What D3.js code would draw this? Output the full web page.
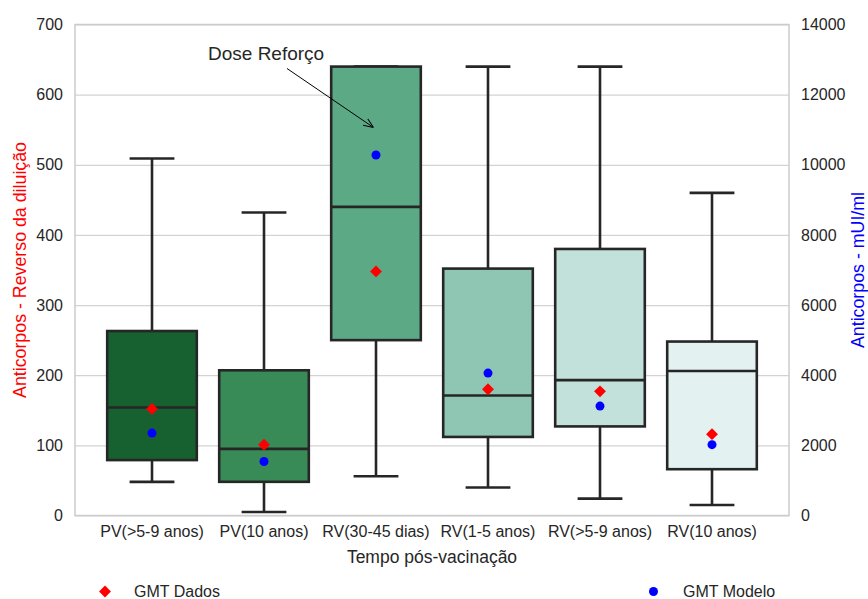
<!DOCTYPE html>
<html>
<head>
<meta charset="utf-8">
<script src="https://cdn.jsdelivr.net/npm/d3@7"></script>
<style>
  body { margin: 0; background: #fff; }
  text { font-family: "Liberation Sans", Arial, sans-serif; }
</style>
</head>
<body>
<div id="chart"></div>
<script>
// categories (x axis)
const categories = ["PV(>5-9 anos)", "PV(10 anos)", "RV(30-45 dias)", "RV(1-5 anos)", "RV(>5-9 anos)", "RV(10 anos)"];
// box stats, reverse of dilution
const whiskerLow = [48, 5, 56, 40, 24, 15];
const q1 = [79, 48, 250, 112, 127, 66];
const median = [154, 95, 440, 171, 193, 206];
const q3 = [263, 207, 640, 352, 380, 248];
const whiskerHigh = [509, 432, 640, 640, 640, 460];
// GMT from data (left axis) and from model (right axis, mUI/ml)
const gmtDados = [152, 101, 348, 180, 177, 116];
const gmtModelo = [2350, 1540, 10280, 4060, 3120, 2020];
const boxColors = ["#16612f", "#388a57", "#5ca986", "#8fc6b3", "#c2e1db", "#e3f1f1"];
const leftTicks = [0, 100, 200, 300, 400, 500, 600, 700];
const rightTicks = [0, 2000, 4000, 6000, 8000, 10000, 12000, 14000];

const W = 868, H = 599;
const plot = { left: 75, right: 789, top: 24.5, bottom: 515.5 };
const tickFont = 16;

const svg = d3.select("#chart").append("svg")
  .attr("width", W).attr("height", H);

const x = d3.scaleBand()
  .domain(categories)
  .range([plot.left, plot.right])
  .paddingInner(0.2)
  .paddingOuter(0.2875);
const yL = d3.scaleLinear().domain([0, 700]).range([plot.bottom, plot.top]);
const yR = d3.scaleLinear().domain([0, 14000]).range([plot.bottom, plot.top]);

const cx = c => x(c) + x.bandwidth() / 2;

// grid lines
svg.append("g")
  .attr("transform", "translate(" + plot.left + ",0)")
  .call(d3.axisLeft(yL).tickValues(leftTicks).tickSize(-(plot.right - plot.left)).tickFormat(""))
  .call(g => g.select(".domain").remove())
  .call(g => g.selectAll("line").attr("stroke", "#d3d3d3").attr("stroke-width", 1.2));

// left tick labels
svg.append("g")
  .attr("transform", "translate(" + plot.left + ",0)")
  .call(d3.axisLeft(yL).tickValues(leftTicks).tickSize(0).tickPadding(12))
  .call(g => g.select(".domain").remove())
  .call(g => g.selectAll("text").attr("font-size", tickFont).attr("fill", "#262626")
    .attr("font-family", "Liberation Sans, Arial, sans-serif"));

// right tick labels
svg.append("g")
  .attr("transform", "translate(" + plot.right + ",0)")
  .call(d3.axisRight(yR).tickValues(rightTicks).tickFormat(d3.format("d")).tickSize(0).tickPadding(12))
  .call(g => g.select(".domain").remove())
  .call(g => g.selectAll("text").attr("font-size", tickFont).attr("fill", "#262626")
    .attr("font-family", "Liberation Sans, Arial, sans-serif"));

// x tick labels
svg.append("g")
  .attr("transform", "translate(0," + plot.bottom + ")")
  .call(d3.axisBottom(x).tickSize(0).tickPadding(10))
  .call(g => g.select(".domain").remove())
  .call(g => g.selectAll("text").attr("font-size", tickFont).attr("fill", "#262626")
    .attr("font-family", "Liberation Sans, Arial, sans-serif"));

// frame
svg.append("rect")
  .attr("x", plot.left).attr("y", plot.top)
  .attr("width", plot.right - plot.left).attr("height", plot.bottom - plot.top)
  .attr("fill", "none").attr("stroke", "#cccccc").attr("stroke-width", 1.5);

// boxes
const boxes = svg.append("g").selectAll("g.box")
  .data(categories)
  .enter().append("g").attr("class", "box");

const lineCol = "#262626", lw = 2.6;
const capW = x.bandwidth() / 2;

boxes.append("line")
  .attr("x1", cx).attr("x2", cx)
  .attr("y1", (d, i) => yL(q3[i])).attr("y2", (d, i) => yL(whiskerHigh[i]))
  .attr("stroke", lineCol).attr("stroke-width", lw);
boxes.append("line")
  .attr("x1", cx).attr("x2", cx)
  .attr("y1", (d, i) => yL(q1[i])).attr("y2", (d, i) => yL(whiskerLow[i]))
  .attr("stroke", lineCol).attr("stroke-width", lw);
boxes.append("line")
  .attr("x1", d => cx(d) - capW / 2).attr("x2", d => cx(d) + capW / 2)
  .attr("y1", (d, i) => yL(whiskerHigh[i])).attr("y2", (d, i) => yL(whiskerHigh[i]))
  .attr("stroke", lineCol).attr("stroke-width", lw);
boxes.append("line")
  .attr("x1", d => cx(d) - capW / 2).attr("x2", d => cx(d) + capW / 2)
  .attr("y1", (d, i) => yL(whiskerLow[i])).attr("y2", (d, i) => yL(whiskerLow[i]))
  .attr("stroke", lineCol).attr("stroke-width", lw);
boxes.append("rect")
  .attr("x", d => x(d)).attr("width", x.bandwidth())
  .attr("y", (d, i) => yL(q3[i])).attr("height", (d, i) => yL(q1[i]) - yL(q3[i]))
  .attr("fill", (d, i) => boxColors[i])
  .attr("stroke", lineCol).attr("stroke-width", lw);
boxes.append("line")
  .attr("x1", d => x(d)).attr("x2", d => x(d) + x.bandwidth())
  .attr("y1", (d, i) => yL(median[i])).attr("y2", (d, i) => yL(median[i]))
  .attr("stroke", lineCol).attr("stroke-width", lw);

// GMT points
const diamond = d3.symbol().type(d3.symbolDiamond2).size(90);
svg.append("g").selectAll("path")
  .data(categories)
  .enter().append("path")
  .attr("d", diamond)
  .attr("transform", (d, i) => "translate(" + cx(d) + "," + yL(gmtDados[i]) + ")")
  .attr("fill", "#ff0000");
svg.append("g").selectAll("circle")
  .data(categories)
  .enter().append("circle")
  .attr("cx", cx).attr("cy", (d, i) => yR(gmtModelo[i]))
  .attr("r", 4.5)
  .attr("fill", "#0000ff");

// annotation
svg.append("defs").append("marker")
  .attr("id", "arrow")
  .attr("viewBox", "0 0 10 10").attr("refX", 10).attr("refY", 5)
  .attr("markerWidth", 10).attr("markerHeight", 10)
  .attr("markerUnits", "userSpaceOnUse")
  .attr("orient", "auto")
  .append("path").attr("d", "M0,1 L10,5 L0,9")
  .attr("fill", "none").attr("stroke", "#000").attr("stroke-width", 1);
svg.append("line")
  .attr("x1", 287).attr("y1", 68.5)
  .attr("x2", 373.5).attr("y2", 127.5)
  .attr("stroke", "#000").attr("stroke-width", 1)
  .attr("marker-end", "url(#arrow)");
svg.append("text")
  .attr("x", 208).attr("y", 59.5)
  .attr("font-size", 19).attr("fill", "#262626")
  .text("Dose Reforço");

// axis titles
svg.append("text")
  .attr("x", (plot.left + plot.right) / 2).attr("y", 563)
  .attr("text-anchor", "middle").attr("font-size", 17.5).attr("fill", "#262626")
  .text("Tempo pós-vacinação");
svg.append("text")
  .attr("transform", "translate(25.5," + (plot.top + plot.bottom) / 2 + ") rotate(-90)")
  .attr("text-anchor", "middle").attr("font-size", 17.8).attr("fill", "#ff0000")
  .text("Anticorpos - Reverso da diluição");
svg.append("text")
  .attr("transform", "translate(863.5," + (plot.top + plot.bottom) / 2 + ") rotate(-90)")
  .attr("text-anchor", "middle").attr("font-size", 17.8).attr("fill", "#0000ff")
  .text("Anticorpos - mUI/ml");

// legend
svg.append("path")
  .attr("d", diamond)
  .attr("transform", "translate(105,591.5)")
  .attr("fill", "#ff0000");
svg.append("text")
  .attr("x", 134).attr("y", 597)
  .attr("font-size", tickFont).attr("fill", "#262626")
  .text("GMT Dados");
svg.append("circle")
  .attr("cx", 653.5).attr("cy", 591.5).attr("r", 4.5)
  .attr("fill", "#0000ff");
svg.append("text")
  .attr("x", 683).attr("y", 597)
  .attr("font-size", tickFont).attr("fill", "#262626")
  .text("GMT Modelo");
</script>
</body>
</html>
